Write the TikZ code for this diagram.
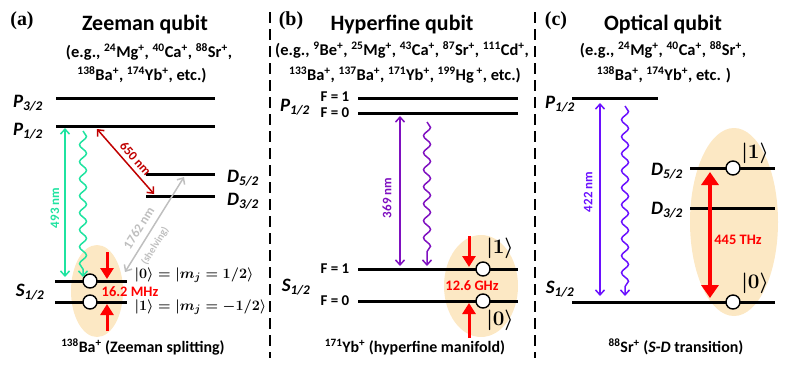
\documentclass[tikz,border=0pt]{standalone}
\usepackage[no-math]{fontspec}
\setmainfont{Carlito}
\newfontfamily\panelfont{Liberation Serif}
\usepackage{amsmath}
\usetikzlibrary{arrows.meta,shapes.geometric,decorations.pathmorphing}
\definecolor{QbGreen}{HTML}{1FE3A0}
\definecolor{QbDarkRed}{HTML}{C00000}
\definecolor{QbGray}{HTML}{BFBFBF}
\definecolor{QbPurple}{HTML}{7F10C0}
\definecolor{QbViolet}{HTML}{6A10FF}
\definecolor{QbRed}{HTML}{FF0000}
\definecolor{QbCloud}{HTML}{FCE8C4}
\newcommand{\ionq}[2]{\textsuperscript{#1}#2\textsuperscript{+}}
\newcommand{\lvl}[2]{#1\textsubscript{#2}}

\begin{document}
\begin{tikzpicture}[x=1bp,y=-1bp,>=Latex]
  \tikzset{level/.style={line width=3bp, black},
    qcirc/.style={circle, draw, fill=white, line width=1.4bp, minimum size=14bp, inner sep=0pt},
    cloud/.style={ellipse, fill=QbCloud, inner sep=0pt},
    paneltag/.style={font=\fontsize{20}{21}\panelfont\bfseries},
    qtitle/.style={font=\fontsize{22}{24}\selectfont\bfseries},
    qeg/.style={font=\fontsize{16.5}{18}\selectfont\bfseries},
    lvllabel/.style={font=\fontsize{19}{20}\selectfont\bfseries\itshape},
    flabel/.style={font=\fontsize{15}{16}\selectfont\bfseries},
    wavelabel/.style={font=\fontsize{13}{14}\selectfont\bfseries},
    freqlabel/.style={font=\fontsize{14.5}{15}\selectfont\bfseries, text=QbRed},
    ketlabel/.style={font=\fontsize{15}{16}\selectfont\boldmath},
    bigket/.style={font=\fontsize{20}{21}\selectfont\boldmath},
    caption/.style={font=\fontsize{16}{17}\selectfont\bfseries},
    thinarrow/.style={line width=1.5bp, arrows={Straight Barb[length=5bp,width=9bp]-Straight Barb[length=5bp,width=9bp]}},
    wavy/.style={line width=1.5bp, -{Straight Barb[length=5bp,width=9bp]}, decorate,
      decoration={snake, amplitude=3.5bp, segment length=17bp, post length=6bp}},
    redpush/.style={line width=3bp, QbRed, -{Triangle[length=11bp,width=13bp]}},
    divider/.style={line width=1.6bp, dash pattern=on 11bp off 6bp}}
  \useasboundingbox (0,0) rectangle (789,368);

  \draw[divider] (270,12) -- (270,358);
  \draw[divider] (535,12) -- (535,358);

  % (a) Zeeman
  \node[cloud, minimum width=52bp, minimum height=92bp] (aCloud) at (97,291) {};
  \node[paneltag] (aTag) at (22,21) {(a)};
  \node[qtitle] (aTitle) at (145,25) {Zeeman qubit};
  \node[qeg] (aEgA) at (149,52) {(e.g., \ionq{24}{Mg}, \ionq{40}{Ca}, \ionq{88}{Sr},};
  \node[qeg] (aEgB) at (142,75) {\ionq{138}{Ba}, \ionq{174}{Yb}, etc.)};
  \foreach \xa/\xb/\y in {56/215/98, 56/215/126, 146/215/174, 146/215/196, 55/127/281, 55/127/302}
    {\draw[level] (\xa,\y) -- (\xb,\y);}
  \node[lvllabel] (aP32) at (28,103) {\lvl{P}{3/2}};
  \node[lvllabel] (aP12) at (28,131) {\lvl{P}{1/2}};
  \node[lvllabel] (aD52) at (243,178) {\lvl{D}{5/2}};
  \node[lvllabel] (aD32) at (243,201) {\lvl{D}{3/2}};
  \node[lvllabel] (aS12) at (30,292) {\lvl{S}{1/2}};
  \node[qcirc] (aZero) at (90,281) {};
  \node[qcirc] (aOne) at (90,302) {};
  \coordinate (aGtop) at (65,128); \coordinate (aGbot) at (65,277);
  \coordinate (aWtop) at (83,131); \coordinate (aWbot) at (83,277);
  \coordinate (aRtop) at (97,129); \coordinate (aRbot) at (154,194);
  \coordinate (aShS) at (125,272); \coordinate (aShD) at (184,177);
  \coordinate (aPushA) at (107,252); \coordinate (aPushB) at (107,279);
  \coordinate (aPushC) at (107,331); \coordinate (aPushD) at (107,304);
  \draw[thinarrow, QbGreen] (aGtop) -- (aGbot);
  \draw[wavy, QbGreen] (aWtop) -- (aWbot);
  \node[wavelabel, text=QbGreen, rotate=90] (aGnm) at (55,208) {493 nm};
  \draw[thinarrow, QbDarkRed] (aRtop) -- node[wavelabel, sloped, above=1bp, pos=0.55] (aRnm) {650 nm} (aRbot);
  \draw[thinarrow, QbGray] (aShS) -- node[wavelabel, sloped, above=3bp, pos=0.40] (aShnm) {1762 nm}
    node[font=\fontsize{10.5}{11}\selectfont\bfseries, sloped, below=3bp, pos=0.34] (aShtxt) {(shelving)} (aShD);
  \draw[redpush] (aPushA) -- (aPushB);
  \draw[redpush] (aPushC) -- (aPushD);
  \node[freqlabel] (aFreq) at (130,292) {16.2 MHz};
  \node[ketlabel, anchor=west] (aKetZero) at (131,275) {$|0\rangle = |m_j = 1/2\rangle$};
  \node[ketlabel, anchor=west] (aKetOne) at (131,307) {$|1\rangle = |m_j = -1/2\rangle$};
  \node[caption] (aCap) at (143,347) {\ionq{138}{Ba} (Zeeman splitting)};

  % (b) Hyperfine
  \node[cloud, minimum width=74bp, minimum height=102bp] (bCloud) at (481,286) {};
  \node[paneltag] (bTag) at (291,21) {(b)};
  \node[qtitle] (bTitle) at (402,25) {Hyperfine qubit};
  \node[qeg] (bEgA) at (402,50) {(e.g., \ionq{9}{Be}, \ionq{25}{Mg}, \ionq{43}{Ca}, \ionq{87}{Sr}, \ionq{111}{Cd},};
  \node[qeg] (bEgB) at (405,75) {\ionq{133}{Ba}, \ionq{137}{Ba}, \ionq{171}{Yb}, \textsuperscript{199}Hg\,\textsuperscript{+}, etc.)};
  \foreach \y in {98,113,269,301}
    {\draw[level] (358,\y) -- (518,\y);}
  \node[flabel] (bPFa) at (335,97) {F = 1};
  \node[flabel] (bPFb) at (335,113) {F = 0};
  \node[flabel] (bSFa) at (335,269) {F = 1};
  \node[flabel] (bSFb) at (335,301) {F = 0};
  \node[lvllabel] (bP12) at (295,107) {\lvl{P}{1/2}};
  \node[lvllabel] (bS12) at (296,287) {\lvl{S}{1/2}};
  \node[qcirc] (bOne) at (483,269) {};
  \node[qcirc] (bZero) at (483,301) {};
  \coordinate (bUtop) at (400,116); \coordinate (bUbot) at (400,266);
  \coordinate (bWtop) at (427,122); \coordinate (bWbot) at (427,266);
  \coordinate (bPushA) at (469,236); \coordinate (bPushB) at (469,267);
  \coordinate (bPushC) at (469,338); \coordinate (bPushD) at (469,303);
  \draw[thinarrow, QbPurple] (bUtop) -- (bUbot);
  \draw[wavy, QbPurple] (bWtop) -- (bWbot);
  \node[wavelabel, text=QbPurple, rotate=90] (bUnm) at (387,198) {369 nm};
  \draw[redpush] (bPushA) -- (bPushB);
  \draw[redpush] (bPushC) -- (bPushD);
  \node[freqlabel] (bFreq) at (472,286) {12.6 GHz};
  \node[bigket] (bKetOne) at (500,248) {$|1\rangle$};
  \node[bigket] (bKetZero) at (500,320) {$|0\rangle$};
  \node[caption] (bCap) at (415,347) {\ionq{171}{Yb} (hyperfine manifold)};

  % (c) Optical
  \node[cloud, minimum width=88bp, minimum height=188bp] (cCloud) at (734,222) {};
  \node[paneltag] (cTag) at (556,21) {(c)};
  \node[qtitle] (cTitle) at (663,25) {Optical qubit};
  \node[qeg] (cEgA) at (663,50) {(e.g., \ionq{24}{Mg}, \ionq{40}{Ca}, \ionq{88}{Sr},};
  \node[qeg] (cEgB) at (664,75) {\ionq{138}{Ba}, \ionq{174}{Yb}, etc. )};
  \foreach \xa/\xb/\y in {572/658/98, 690/775/168, 690/775/208, 572/775/302}
    {\draw[level] (\xa,\y) -- (\xb,\y);}
  \node[lvllabel] (cP12) at (560,104) {\lvl{P}{1/2}};
  \node[lvllabel] (cD52) at (667,171) {\lvl{D}{5/2}};
  \node[lvllabel] (cD32) at (667,210) {\lvl{D}{3/2}};
  \node[lvllabel] (cS12) at (560,289) {\lvl{S}{1/2}};
  \node[qcirc] (cOne) at (733,168) {};
  \node[qcirc] (cZero) at (733,302) {};
  \coordinate (cUtop) at (600,103); \coordinate (cUbot) at (600,296);
  \coordinate (cWtop) at (625,106); \coordinate (cWbot) at (625,296);
  \coordinate (cQtop) at (710,172); \coordinate (cQbot) at (710,298);
  \draw[thinarrow, QbViolet] (cUtop) -- (cUbot);
  \draw[wavy, QbViolet] (cWtop) -- (cWbot);
  \node[wavelabel, text=QbViolet, rotate=90] (cUnm) at (588,192) {422 nm};
  \draw[line width=4bp, QbRed, {Triangle[length=13bp,width=17bp]}-{Triangle[length=13bp,width=17bp]}] (cQtop) -- (cQbot);
  \node[freqlabel] (cFreq) at (738,240) {445 THz};
  \node[bigket] (cKetOne) at (755,153) {$|1\rangle$};
  \node[bigket] (cKetZero) at (755,283) {$|0\rangle$};
  \node[caption] (cCap) at (676,347) {\ionq{88}{Sr} (\textit{S}-\textit{D} transition)};
\end{tikzpicture}
\end{document}
